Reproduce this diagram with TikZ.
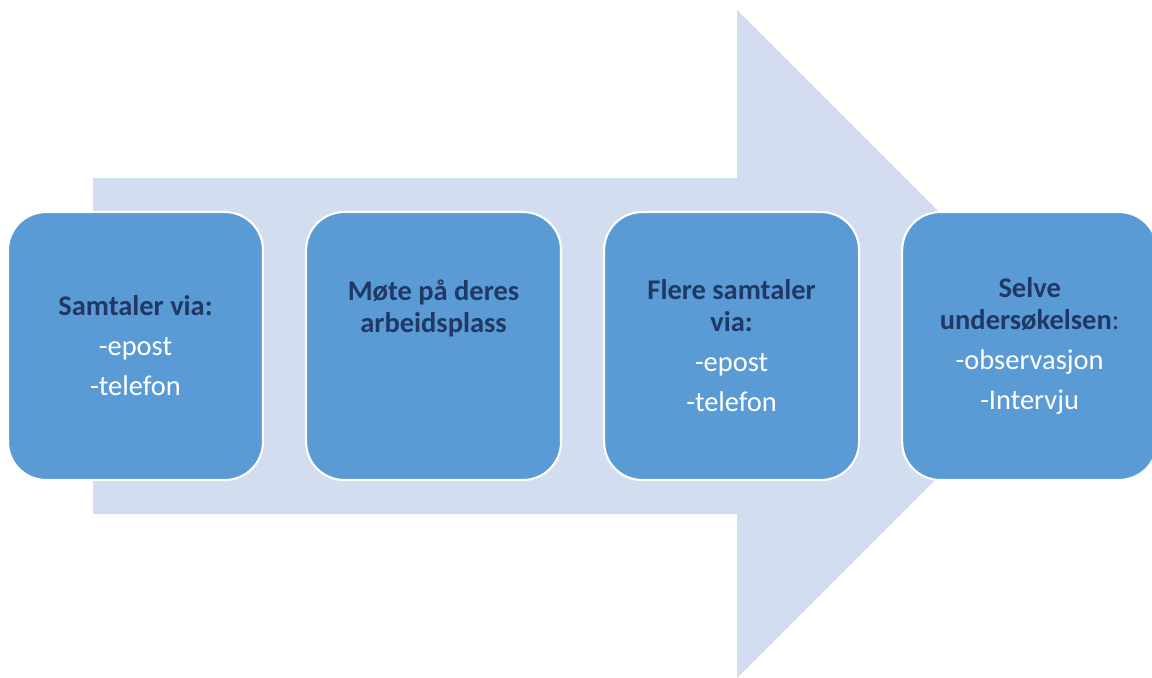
\documentclass[tikz,border=0pt]{standalone}
\usepackage{fontspec}
\setmainfont{Carlito}
\usetikzlibrary{positioning}
\definecolor{arrowfill}{HTML}{D2DEEF}
\definecolor{boxfill}{HTML}{5B9BD5}
\definecolor{titleblue}{HTML}{1F3864}
\newcommand{\steptitle}[1]{\textbf{\color{titleblue}#1}}
\begin{document}
\begin{tikzpicture}[x=0.02cm,y=-0.02cm,
    stepbox/.style={draw=white,line width=1.2pt,fill=boxfill,
        rounded corners=0.76cm,minimum width=5.1cm,minimum height=5.36cm,
        inner sep=0pt,text=white,align=center,
        font=\fontsize{16.2}{18.2}\selectfont}]
    \useasboundingbox (0,0) rectangle (1152,677);
    \coordinate (T1) at (93,178);
    \coordinate (T2) at (737,178);
    \coordinate (T3) at (737,10);
    \coordinate (Tip) at (1071,344);
    \coordinate (T4) at (737,678);
    \coordinate (T5) at (737,514);
    \coordinate (T6) at (93,514);

    \fill[arrowfill] (T1) -- (T2) -- (T3) -- (Tip) -- (T4) -- (T5) -- (T6) -- cycle;

    \node[stepbox] (samtaler) at (135.5,346)
        {\steptitle{Samtaler via:}\\[4.6pt]
         -epost\\[4.6pt]
         -telefon};
    \node[stepbox,right=0.82cm of samtaler] (mote)
        {\steptitle{Møte på deres}\\
         \steptitle{arbeidsplass}\\[4.6pt]
         \mbox{}\\[4.6pt]
         \mbox{}};
    \node[stepbox,right=0.82cm of mote] (flere)
        {\steptitle{Flere samtaler}\\
         \steptitle{via:}\\[4.6pt]
         -epost\\[4.6pt]
         -telefon};
    \node[stepbox,right=0.82cm of flere] (selve)
        {\steptitle{Selve}\\
         \steptitle{undersøkelsen}{\color{titleblue}:}\\[4.6pt]
         -observasjon\\[4.6pt]
         -Intervju};
\end{tikzpicture}
\end{document}
